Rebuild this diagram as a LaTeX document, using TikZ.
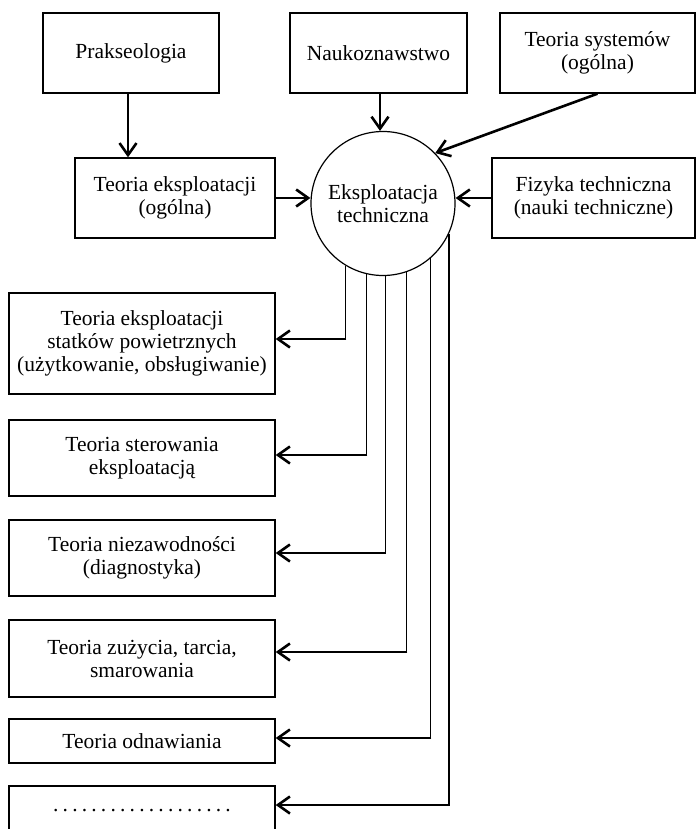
\documentclass[tikz,border=0pt]{standalone}
\usepackage{fontspec}
\setmainfont{Liberation Serif}
\usetikzlibrary{arrows.meta,calc}
\begin{document}
\begin{tikzpicture}[x=1pt,y=-1pt,
  box/.style={draw,line width=1.4pt,inner sep=0pt,align=center,font=\fontsize{21.5}{23}\selectfont},
  arr/.style={line width=2.6pt,-{Straight Barb[length=12pt,width=17pt]}},
  vline/.style={line width=1.4pt}]
\useasboundingbox (0,0) rectangle (696,829);
\clip (0,0) rectangle (696,829);
% top row
\node[box,minimum width=176pt,minimum height=80pt] (prak) at (131,53) {Prakseologia};
\node[box,minimum width=177pt,minimum height=80pt] (nauk) at (378.5,53) {Naukoznawstwo};
\node[box,minimum width=195pt,minimum height=80pt] (syst) at (597.5,53) {Teoria systemów\\(ogólna)};
% middle row
\node[box,minimum width=200pt,minimum height=80pt] (teor) at (175,198) {Teoria eksploatacji\\(ogólna)};
\node[box,minimum width=203pt,minimum height=80pt] (fiz) at (593.5,198) {Fizyka techniczna\\(nauki techniczne)};
\node[box,circle,line width=1.2pt,minimum size=144pt] (circ) at (383,203.5) {Eksploatacja\\techniczna};
% left column
\node[box,minimum width=266pt,minimum height=101pt] (b1) at (142,343.5) {Teoria eksploatacji\\statków powietrznych\\(użytkowanie, obsługiwanie)};
\node[box,minimum width=266pt,minimum height=76pt] (b2) at (142,458) {Teoria sterowania\\eksploatacją};
\node[box,minimum width=266pt,minimum height=76pt] (b3) at (142,558) {Teoria niezawodności\\(diagnostyka)};
\node[box,minimum width=266pt,minimum height=77pt] (b4) at (142,658.5) {Teoria zużycia, tarcia,\\smarowania};
\node[box,minimum width=266pt,minimum height=44pt] (b5) at (142,741) {Teoria odnawiania};
\node[box,minimum width=266pt,minimum height=50pt] (b6) at (142,811) {\foreach \i in {1,...,18}{.\kern4.2pt}.};
% inputs
\draw[arr] ([xshift=-3pt]prak.south) -- ([xshift=-3pt]prak.south |- teor.north);
\draw[arr] ([xshift=1.5pt]nauk.south) -- ([xshift=1.5pt]nauk.south |- circ.north);
\draw[arr] (syst.south) -- (circ.44);
\draw[arr] (teor.east) -- (teor.east -| circ.west);
\draw[arr] (fiz.west) -- (fiz.west -| circ.east);
% outputs
\coordinate (k1) at (circ.-121 |- 0,339);
\coordinate (k2) at (circ.-103 |- 0,455);
\coordinate (k3) at (circ.-88.4 |- 0,553);
\coordinate (k4) at (circ.-71 |- 0,652);
\coordinate (k5) at (circ.-49 |- 0,738);
\coordinate (k6) at (circ.-25.5 |- 0,805);
\draw[vline] (circ.-121) -- (k1);
\draw[vline] (circ.-103) -- (k2);
\draw[vline] (circ.-88.4) -- (k3);
\draw[vline] (circ.-71) -- (k4);
\draw[vline] (circ.-49) -- (k5);
\draw[vline] (circ.-25.5) -- (k6);
\draw[arr] ([xshift=0.7pt]k1) -- (k1 -| b1.east);
\draw[arr] ([xshift=0.7pt]k2) -- (k2 -| b2.east);
\draw[arr] ([xshift=0.7pt]k3) -- (k3 -| b3.east);
\draw[arr] ([xshift=0.7pt]k4) -- (k4 -| b4.east);
\draw[arr] ([xshift=0.7pt]k5) -- (k5 -| b5.east);
\draw[arr] ([xshift=0.7pt]k6) -- (k6 -| b6.east);
\end{tikzpicture}
\end{document}
